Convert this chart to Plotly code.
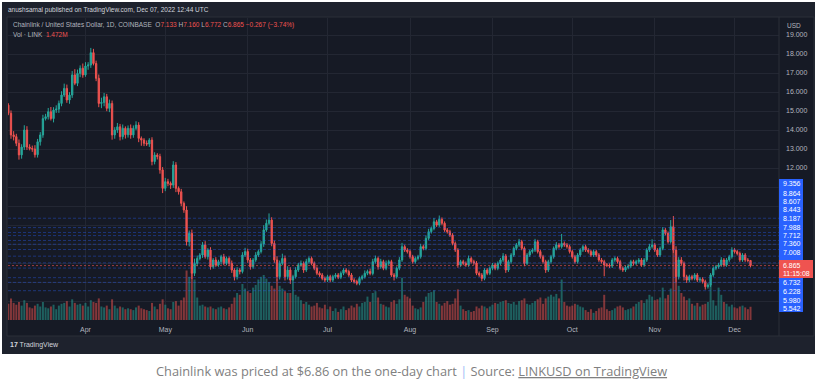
import plotly.graph_objects as go
import pandas as pd

# ---------------- data ----------------
start_date = "2022-03-03"
first_open = 15.31
closes = [
    14.88, 13.74, 13.65, 13.30, 12.69, 13.10, 14.00, 13.10, 13.03, 13.00,
    12.70, 13.38, 13.74, 14.60, 14.70, 14.96, 14.60, 15.05, 15.10, 15.40,
    15.84, 16.19, 15.58, 15.84, 16.90, 16.46, 16.98, 17.25, 16.90, 17.37,
    17.42, 18.07, 17.50, 16.72, 15.40, 15.45, 15.75, 15.14, 15.40, 13.74,
    14.00, 14.17, 13.65, 14.09, 13.75, 14.09, 13.74, 14.09, 14.26, 13.56,
    13.47, 13.30, 13.26, 13.47, 12.34, 12.68, 12.60, 11.90, 10.93, 11.28,
    11.19, 11.10, 12.16, 10.93, 10.75, 10.14, 9.79, 8.12, 8.56, 6.46,
    6.98, 7.24, 7.42, 7.95, 7.33, 7.68, 6.80, 7.16, 6.90, 7.07,
    7.33, 6.98, 7.24, 6.98, 6.63, 6.28, 6.63, 6.55, 7.42, 7.60,
    7.16, 6.80, 7.16, 7.42, 7.60, 8.00, 8.74, 9.09, 9.26, 8.03,
    7.16, 6.28, 6.98, 7.24, 6.28, 6.63, 6.10, 6.28, 6.63, 6.90,
    6.98, 6.63, 7.07, 7.24, 6.98, 6.72, 6.46, 6.37, 6.19, 6.10,
    6.28, 6.10, 6.28, 6.37, 6.25, 6.46, 6.63, 6.55, 6.37, 6.10,
    6.02, 5.93, 6.19, 6.28, 6.46, 6.55, 6.45, 7.07, 7.24, 6.80,
    7.07, 6.72, 6.98, 7.07, 6.37, 6.28, 6.72, 7.16, 7.86, 7.68,
    7.60, 7.33, 7.07, 7.24, 7.33, 7.86, 7.77, 8.30, 8.65, 8.82,
    9.17, 9.00, 9.30, 9.09, 8.74, 8.65, 8.47, 8.03, 7.68, 6.90,
    7.07, 6.98, 6.90, 7.24, 7.07, 7.00, 6.46, 6.37, 6.19, 6.63,
    6.46, 6.72, 6.90, 6.72, 6.98, 7.16, 7.37, 6.63, 7.07, 7.42,
    7.77, 7.95, 8.12, 7.77, 6.98, 7.42, 7.60, 7.68, 8.12, 7.60,
    7.33, 7.07, 6.63, 7.07, 7.33, 7.77, 7.95, 7.86, 8.03, 7.95,
    7.86, 7.60, 7.33, 7.07, 7.42, 7.68, 7.86, 7.68, 7.60, 7.42,
    7.60, 7.42, 7.16, 7.07, 6.90, 6.88, 6.84, 7.16, 7.24, 7.07,
    6.72, 6.63, 6.77, 6.84, 7.07, 6.98, 7.07, 7.16, 6.90, 7.16,
    7.68, 7.86, 7.95, 7.68, 7.42, 7.77, 8.74, 8.56, 8.12, 8.91,
    7.68, 6.28, 7.16, 6.98, 6.28, 6.10, 6.28, 6.19, 6.37, 6.10,
    6.15, 6.02, 5.75, 5.84, 6.37, 6.72, 6.80, 6.90, 7.16, 6.90,
    7.16, 7.33, 7.68, 7.60, 7.50, 7.16, 7.42, 7.16, 7.133, 6.865,
]
upper_wick = [
    0.10, 0.15, 0.20, 0.15, 0.20, 0.15, 0.25, 0.20, 0.15, 0.15,
    0.20, 0.15, 0.15, 0.20, 0.15, 0.20, 0.25, 0.15, 0.20, 0.15,
    0.20, 0.25, 0.20, 0.15, 0.20, 0.30, 0.20, 0.15, 0.25, 0.20,
    0.15, 0.25, 0.20, 0.15, 0.20, 0.25, 0.20, 0.15, 0.20, 0.15,
    0.15, 0.20, 0.15, 0.20, 0.10, 0.15, 0.20, 0.15, 0.20, 0.15,
    0.10, 0.10, 0.15, 0.10, 0.15, 0.15, 0.10, 0.15, 0.15, 0.20,
    0.15, 0.10, 0.20, 0.15, 0.10, 0.15, 0.10, 0.20, 0.15, 0.20,
    0.25, 0.15, 0.10, 0.15, 0.20, 0.10, 0.15, 0.10, 0.15, 0.10,
    0.10, 0.15, 0.10, 0.10, 0.15, 0.10, 0.15, 0.10, 0.15, 0.20,
    0.15, 0.10, 0.10, 0.15, 0.10, 0.15, 0.25, 0.20, 0.35, 0.15,
    0.15, 0.20, 0.15, 0.25, 0.15, 0.20, 0.15, 0.10, 0.15, 0.10,
    0.15, 0.10, 0.15, 0.10, 0.10, 0.10, 0.10, 0.10, 0.10, 0.10,
    0.10, 0.10, 0.10, 0.10, 0.10, 0.10, 0.10, 0.10, 0.10, 0.10,
    0.10, 0.10, 0.10, 0.10, 0.15, 0.10, 0.15, 0.15, 0.15, 0.10,
    0.15, 0.10, 0.15, 0.10, 0.10, 0.10, 0.10, 0.15, 0.20, 0.10,
    0.10, 0.10, 0.10, 0.10, 0.10, 0.15, 0.10, 0.15, 0.15, 0.10,
    0.20, 0.10, 0.20, 0.10, 0.10, 0.10, 0.10, 0.10, 0.10, 0.10,
    0.10, 0.10, 0.10, 0.15, 0.10, 0.10, 0.10, 0.10, 0.10, 0.10,
    0.10, 0.10, 0.10, 0.10, 0.10, 0.10, 0.15, 0.10, 0.10, 0.10,
    0.10, 0.10, 0.15, 0.10, 0.10, 0.10, 0.10, 0.10, 0.15, 0.10,
    0.10, 0.10, 0.10, 0.10, 0.10, 0.10, 0.15, 0.10, 0.50, 0.10,
    0.10, 0.10, 0.10, 0.10, 0.10, 0.10, 0.10, 0.10, 0.10, 0.10,
    0.10, 0.10, 0.10, 0.10, 0.10, 0.10, 0.10, 0.10, 0.10, 0.10,
    0.10, 0.10, 0.10, 0.10, 0.10, 0.10, 0.10, 0.10, 0.10, 0.10,
    0.10, 0.15, 0.30, 0.10, 0.10, 0.10, 0.15, 0.10, 0.10, 0.35,
    0.56, 0.20, 0.15, 0.15, 0.10, 0.10, 0.10, 0.10, 0.10, 0.10,
    0.10, 0.10, 0.10, 0.10, 0.10, 0.10, 0.10, 0.10, 0.15, 0.10,
    0.10, 0.10, 0.15, 0.10, 0.10, 0.10, 0.10, 0.10, 0.10, 0.027,
]
lower_wick = [
    0.10, 0.20, 0.20, 0.15, 0.25, 0.20, 0.15, 0.15, 0.10, 0.15,
    0.15, 0.15, 0.20, 0.15, 0.10, 0.15, 0.10, 0.20, 0.15, 0.20,
    0.15, 0.10, 0.15, 0.20, 0.15, 0.10, 0.15, 0.20, 0.15, 0.10,
    0.20, 0.15, 0.10, 0.15, 0.20, 0.25, 0.20, 0.15, 0.20, 0.25,
    0.20, 0.15, 0.20, 0.15, 0.20, 0.15, 0.20, 0.15, 0.10, 0.20,
    0.30, 0.15, 0.10, 0.15, 0.20, 0.15, 0.15, 0.20, 0.25, 0.15,
    0.15, 0.20, 0.15, 0.20, 0.15, 0.15, 0.15, 0.20, 0.25, 0.30,
    0.15, 0.15, 0.10, 0.15, 0.10, 0.15, 0.15, 0.10, 0.10, 0.10,
    0.15, 0.10, 0.10, 0.15, 0.15, 0.20, 0.15, 0.15, 0.10, 0.10,
    0.15, 0.15, 0.10, 0.10, 0.10, 0.10, 0.15, 0.10, 0.10, 0.15,
    0.15, 0.20, 0.15, 0.10, 0.20, 0.15, 0.20, 0.50, 0.10, 0.10,
    0.10, 0.15, 0.10, 0.10, 0.10, 0.10, 0.10, 0.10, 0.10, 0.10,
    0.10, 0.10, 0.10, 0.10, 0.10, 0.10, 0.10, 0.10, 0.10, 0.10,
    0.10, 0.10, 0.10, 0.10, 0.10, 0.10, 0.10, 0.10, 0.10, 0.15,
    0.10, 0.10, 0.10, 0.10, 0.10, 0.20, 0.10, 0.10, 0.10, 0.10,
    0.10, 0.10, 0.10, 0.10, 0.10, 0.10, 0.10, 0.10, 0.10, 0.10,
    0.10, 0.10, 0.10, 0.10, 0.10, 0.10, 0.10, 0.10, 0.10, 0.15,
    0.10, 0.10, 0.10, 0.10, 0.10, 0.10, 0.10, 0.10, 0.15, 0.10,
    0.10, 0.10, 0.10, 0.10, 0.10, 0.10, 0.10, 0.15, 0.10, 0.10,
    0.10, 0.10, 0.10, 0.10, 0.15, 0.10, 0.10, 0.10, 0.10, 0.10,
    0.10, 0.10, 0.15, 0.10, 0.10, 0.10, 0.10, 0.10, 0.10, 0.10,
    0.10, 0.10, 0.10, 0.10, 0.10, 0.10, 0.10, 0.10, 0.10, 0.10,
    0.10, 0.10, 0.10, 0.10, 0.60, 0.10, 0.10, 0.10, 0.10, 0.10,
    0.10, 0.10, 0.10, 0.10, 0.10, 0.10, 0.10, 0.10, 0.10, 0.10,
    0.10, 0.10, 0.10, 0.10, 0.10, 0.10, 0.10, 0.10, 0.10, 0.10,
    0.15, 0.30, 0.15, 0.10, 0.20, 0.15, 0.10, 0.10, 0.10, 0.10,
    0.10, 0.10, 0.15, 0.10, 0.10, 0.10, 0.10, 0.10, 0.10, 0.10,
    0.10, 0.10, 0.10, 0.10, 0.10, 0.10, 0.10, 0.10, 0.10, 0.093,
]
volumes = [
    1.8, 2.4, 1.9, 1.7, 2.0, 1.6, 2.2, 1.9, 1.4, 1.3,
    1.6, 1.8, 1.5, 2.0, 1.4, 1.3, 1.5, 1.7, 1.2, 1.6,
    1.8, 1.9, 2.1, 1.5, 2.3, 1.9, 1.7, 1.8, 1.6, 1.9,
    1.5, 2.2, 2.0, 1.9, 2.4, 1.5, 1.4, 1.6, 1.2, 2.3,
    1.6, 1.3, 1.5, 1.4, 1.2, 1.3, 1.2, 1.1, 1.4, 1.6,
    1.3, 1.2, 1.1, 1.0, 1.9, 1.5, 1.2, 1.8, 2.3, 1.7,
    1.3, 1.2, 2.0, 2.1, 1.6, 2.2, 2.5, 5.5, 4.8, 6.0,
    4.5, 2.5, 1.6, 1.7, 1.5, 1.4, 1.5, 1.3, 1.2, 1.4,
    1.5, 1.3, 1.2, 1.4, 1.8, 2.5, 3.0, 2.8, 4.0, 3.5,
    3.2, 3.0, 3.6, 3.9, 4.5, 4.8, 5.0, 4.6, 4.2, 3.8,
    3.5, 4.5, 3.8, 3.5, 3.2, 3.0, 3.0, 3.4, 2.8, 2.6,
    2.2, 1.8, 2.0, 1.7, 1.5, 1.6, 1.9, 1.4, 1.3, 1.7,
    1.2, 1.5, 1.0, 1.3, 0.9, 1.2, 1.5, 1.1, 1.3, 1.6,
    1.4, 1.8, 1.5, 1.9, 2.0, 2.6, 2.0, 3.0, 3.2, 2.5,
    1.8, 1.7, 1.5, 1.4, 2.0, 2.2, 1.8, 2.3, 4.7, 2.8,
    2.6, 2.4, 1.6, 1.3, 1.2, 1.4, 2.0, 2.6, 3.0, 3.1,
    3.3, 2.0, 1.8, 1.6, 1.9, 2.1, 1.7, 1.8, 2.4, 3.4,
    1.6, 1.2, 1.0, 1.1, 0.9, 1.0, 1.5, 1.3, 1.6, 1.5,
    1.3, 1.5, 1.7, 1.9, 1.8, 2.0, 2.1, 2.2, 1.9, 1.8,
    2.0, 1.7, 2.1, 2.2, 2.4, 1.8, 1.7, 1.9, 2.1, 2.3,
    2.5, 1.8, 2.4, 2.6, 2.8, 2.6, 2.9, 2.4, 4.5, 2.0,
    1.6, 1.5, 1.6, 1.8, 1.7, 1.5, 1.4, 1.1, 0.9, 1.2,
    0.8, 1.0, 1.3, 1.4, 2.8, 1.2, 1.0, 1.1, 1.3, 1.5,
    1.6, 1.4, 1.1, 1.2, 1.3, 1.5, 1.8, 2.0, 2.2, 1.9,
    2.3, 2.8, 2.6, 2.2, 2.3, 2.5, 3.6, 2.4, 2.8, 3.5,
    7.8, 6.7, 3.8, 3.0, 2.6, 2.2, 2.4, 1.8, 1.6, 1.9,
    1.5, 1.7, 1.8, 2.0, 3.9, 2.2, 1.6, 3.6, 2.8, 2.0,
    1.8, 1.5, 1.7, 1.4, 1.3, 1.5, 1.6, 1.4, 1.2, 1.472,
]
level_prices = [9.356, 8.864, 8.607, 8.443, 8.187, 7.988, 7.712, 7.360,
                7.008, 6.732, 6.228, 5.980, 5.542]
month_ticks = ["2022-04-01", "2022-05-01", "2022-06-01", "2022-07-01",
               "2022-08-01", "2022-09-01", "2022-10-01", "2022-11-01",
               "2022-12-01"]
month_labels = ["Apr", "May", "Jun", "Jul", "Aug", "Sep", "Oct", "Nov", "Dec"]
price_ticks = list(range(4, 20))
price_labeled = list(range(12, 20))
countdown = "11:15:08"
header_ohlc = [("O", "7.133"), ("H", "7.160"), ("L", "6.772"), ("C", "6.865")]
header_change = "−0.267 (−3.74%)"

# ---------------- derived ----------------
dates = pd.date_range(start_date, periods=len(closes), freq="D")
opens = [first_open] + closes[:-1]
highs = [max(o, c) + u for o, c, u in zip(opens, closes, upper_wick)]
lows = [min(o, c) - l for o, c, l in zip(opens, closes, lower_wick)]
GREEN, RED = "#26a69a", "#ef5350"
vol_colors = ["rgba(38,166,154,0.5)" if c >= o else "rgba(239,83,80,0.5)"
              for o, c in zip(opens, closes)]

W, H = 821, 384
L, R, T, B = 8, 779, 18, 320


def xp(px):
    return (px - L) / (R - L)


def yp(py):
    return (B - py) / (B - T)


FONT = "Liberation Sans"
fig = go.Figure()
fig.add_trace(go.Bar(x=dates, y=volumes, marker=dict(color=vol_colors, line=dict(width=0)),
                     yaxis="y2", showlegend=False, hoverinfo="skip"))
fig.add_trace(go.Candlestick(
    x=dates, open=opens, high=highs, low=lows, close=closes,
    increasing=dict(line=dict(color=GREEN, width=1), fillcolor=GREEN),
    decreasing=dict(line=dict(color=RED, width=1), fillcolor=RED),
    whiskerwidth=0, showlegend=False))

shapes = [
    dict(type="rect", xref="paper", yref="paper", x0=xp(2), x1=xp(815), y0=yp(354), y1=yp(2),
         fillcolor="#1e222d", line=dict(width=0), layer="below"),
    dict(type="rect", xref="paper", yref="paper", x0=xp(7), x1=xp(814), y0=yp(336), y1=yp(17),
         fillcolor="#161a25", line=dict(color="#2a2e39", width=1), layer="below"),
    dict(type="line", xref="paper", yref="paper", x0=1, x1=1, y0=yp(336), y1=yp(17),
         line=dict(color="#2a2e39", width=1)),
]
for lv in level_prices:
    shapes.append(dict(type="line", xref="x domain", yref="y", x0=0, x1=1, y0=lv, y1=lv,
                       line=dict(color="rgba(41,98,255,0.38)", width=1, dash="3px,2px"),
                       layer="above"))
shapes.append(dict(type="line", xref="x domain", yref="y", x0=0, x1=1,
                   y0=closes[-1], y1=closes[-1],
                   line=dict(color="rgba(239,83,80,0.6)", width=1, dash="2px,2px")))
shapes += [
    dict(type="rect", xref="paper", yref="paper", x0=xp(779), x1=xp(803), y0=yp(312), y1=yp(179),
         fillcolor="#2962ff", line=dict(width=0)),
    dict(type="rect", xref="paper", yref="paper", x0=xp(779), x1=xp(813), y0=yp(278), y1=yp(260),
         fillcolor="#ef5350", line=dict(width=0)),
]

ann = []
label_y = [184, 193, 201.5, 209.5, 218, 227, 235, 243.5, 252, 282, 291.5, 300, 308.5]
for lv, py in zip(level_prices, label_y):
    ann.append(dict(x=xp(781), y=yp(py), xref="paper", yref="paper", text=f"{lv:.3f}",
                    showarrow=False, xanchor="left", yanchor="middle",
                    font=dict(family=FONT, size=7, color="white")))
ann.append(dict(x=xp(781), y=yp(265), xref="paper", yref="paper", text=f"{closes[-1]:.3f}",
                showarrow=False, xanchor="left", yanchor="middle",
                font=dict(family=FONT, size=7, color="white")))
ann.append(dict(x=xp(781), y=yp(273), xref="paper", yref="paper", text=countdown,
                showarrow=False, xanchor="left", yanchor="middle",
                font=dict(family=FONT, size=7, color="white")))
ann.append(dict(x=xp(785), y=yp(25), xref="paper", yref="paper", text="USD",
                showarrow=False, xanchor="left", yanchor="middle",
                font=dict(family=FONT, size=6.5, color="#b2b5be")))
ann.append(dict(x=xp(6), y=yp(10), xref="paper", yref="paper",
                text="anushsamal published on TradingView.com, Dec 07, 2022 12:44 UTC",
                showarrow=False, xanchor="left", yanchor="middle",
                font=dict(family=FONT, size=6.5, color="#d1d4dc")))


def red(s):
    return f"<span style='color:#ef5350'>{s}</span>"


ohlc_txt = " ".join(f"{k}{red(v)}" for k, v in header_ohlc)
ann.append(dict(x=xp(11), y=yp(25), xref="paper", yref="paper",
                text=f"Chainlink / United States Dollar, 1D, COINBASE  {ohlc_txt} {red(header_change)}",
                showarrow=False, xanchor="left", yanchor="middle",
                font=dict(family=FONT, size=6.5, color="#b2b5be")))
ann.append(dict(x=xp(11), y=yp(35), xref="paper", yref="paper",
                text=f"Vol · LINK  {red(f'{volumes[-1]:.3f}M')}",
                showarrow=False, xanchor="left", yanchor="middle",
                font=dict(family=FONT, size=6.5, color="#b2b5be")))
ann.append(dict(x=xp(8), y=yp(345), xref="paper", yref="paper",
                text="<b>17</b> TradingView",
                showarrow=False, xanchor="left", yanchor="middle",
                font=dict(family=FONT, size=7, color="#d1d4dc")))
ann.append(dict(x=xp(411), y=yp(371), xref="paper", yref="paper",
                text=("Chainlink was priced at $6.86 on the one-day chart "
                      "<span style='color:#9bbcf5'>|</span> Source: "
                      "<span style='text-decoration:underline'>LINKUSD on TradingView</span>"),
                showarrow=False, xanchor="center", yanchor="middle",
                font=dict(family="Open Sans", size=12.8, color="#808080")))

fig.update_layout(
    width=W, height=H,
    margin=dict(l=L, r=W - R, t=T, b=H - B, pad=0),
    paper_bgcolor="white", plot_bgcolor="#161a25",
    shapes=shapes, annotations=ann, bargap=0.25,
    xaxis=dict(type="date", range=["2022-03-02 21:00", "2022-12-17 17:00"],
               rangeslider=dict(visible=False), tickvals=month_ticks, ticktext=month_labels,
               showgrid=True, gridcolor="#232733", gridwidth=1, zeroline=False,
               tickfont=dict(family=FONT, size=7, color="#b2b5be"), ticks="",
               ticklabelstandoff=4, showline=False, fixedrange=True),
    yaxis=dict(range=[4.0, 12 + (168 - T) / 19], side="right", tickvals=price_ticks,
               ticktext=[f"{v:.3f}" if v in price_labeled else "" for v in price_ticks],
               showgrid=True, gridcolor="#232733", gridwidth=1, zeroline=False,
               tickfont=dict(family=FONT, size=7, color="#b2b5be"), ticks="",
               ticklabelstandoff=6, showline=False),
    yaxis2=dict(overlaying="y", range=[0, (B - T) / 9], visible=False),
    showlegend=False,
)

fig.write_html("out.html", config={"displayModeBar": False},
               post_script="document.body.style.margin='0';document.body.style.padding='0';")
